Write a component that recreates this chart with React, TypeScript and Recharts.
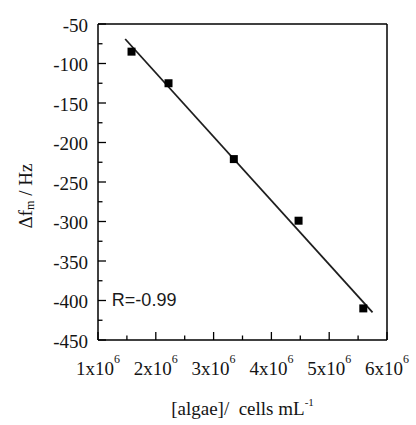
import React from 'react';
import { ComposedChart, XAxis, YAxis, Scatter, Line, Label, ReferenceDot } from 'recharts';

const algaeConc = [1.58e6, 2.22e6, 3.35e6, 4.47e6, 5.59e6];
const freqShift = [-85, -125, -221, -299, -410];
const fitX = [1.47e6, 5.75e6];
const fitY = [-69, -415];
const xTicks = [1e6, 1.5e6, 2e6, 2.5e6, 3e6, 3.5e6, 4e6, 4.5e6, 5e6, 5.5e6, 6e6];
const xMajor = [1e6, 2e6, 3e6, 4e6, 5e6, 6e6];
const yTicks = [-450, -425, -400, -375, -350, -325, -300, -275, -250, -225, -200, -175, -150, -125, -100, -75, -50];
const yMajor = [-450, -400, -350, -300, -250, -200, -150, -100, -50];
const rLabel = 'R=-0.99';

const points = algaeConc.map((x, i) => ({ x, y: freqShift[i] }));
const fit = fitX.map((x, i) => ({ x, y: fitY[i] }));

const SERIF = '"Liberation Serif", "Times New Roman", "DejaVu Serif", serif';
const SANS = '"Liberation Sans", Arial, sans-serif';
const TXT = '#141414';
const serifStyle = { fontFamily: SERIF, whiteSpace: 'pre' as const };

const BottomTick = (props: any) => {
  const { x, y, payload } = props;
  const v = payload.value;
  const major = xMajor.includes(v);
  return (
    <g>
      <line x1={x} x2={x} y1={y} y2={y - (major ? 8 : 4.5)} stroke="#000" strokeWidth={1.3} />
      {major && (
        <text x={x} y={y + 35} textAnchor="middle" fontSize={19} fill={TXT} style={serifStyle}>
          {`${Math.round(v / 1e6)}x10`}
          <tspan dy={-12} fontSize={12}>6</tspan>
        </text>
      )}
    </g>
  );
};

const TopTick = (props: any) => {
  const { x, y, payload } = props;
  const major = xMajor.includes(payload.value);
  return <line x1={x} x2={x} y1={y} y2={y + (major ? 8 : 4.5)} stroke="#000" strokeWidth={1.3} />;
};

const LeftTick = (props: any) => {
  const { x, y, payload } = props;
  const v = payload.value;
  const major = yMajor.includes(v);
  return (
    <g>
      <line x1={x} x2={x + (major ? 8 : 4.5)} y1={y} y2={y} stroke="#000" strokeWidth={1.3} />
      {major && (
        <text x={x - 10} y={y + 1} textAnchor="end" dominantBaseline="central" fontSize={19} fill={TXT} style={serifStyle}>
          {String(v)}
        </text>
      )}
    </g>
  );
};

const RightTick = (props: any) => {
  const { x, y, payload } = props;
  const major = yMajor.includes(payload.value);
  return <line x1={x} x2={x - (major ? 8 : 4.5)} y1={y} y2={y} stroke="#000" strokeWidth={1.3} />;
};

const XTitle = (props: any) => {
  const vb = props.viewBox || {};
  const cx = vb.x + vb.width / 2;
  return (
    <text x={cx} y={340 + 75} textAnchor="middle" fontSize={19} fill={TXT} style={serifStyle}>
      {'[algae]/  cells mL'}
      <tspan dy={-9} fontSize={11}>-1</tspan>
    </text>
  );
};

const YTitle = () => {
  const cx = 25;
  const cy = 196;
  return (
    <text x={cx} y={cy} transform={`rotate(-90, ${cx}, ${cy})`} textAnchor="middle" dominantBaseline="central" fontSize={19} fill={TXT} style={serifStyle}>
      {'Δf'}
      <tspan dy={5} fontSize={12}>m</tspan>
      <tspan dy={-5}>{' / Hz'}</tspan>
    </text>
  );
};

const RText = (props: any) => {
  const vb = props.viewBox || {};
  const x = vb.x ?? props.x;
  const y = vb.y ?? props.y;
  return (
    <text x={x} y={y} textAnchor="start" dominantBaseline="central" fontSize={18} fill="#1a1a1a" style={{ fontFamily: SANS }}>
      {rLabel}
    </text>
  );
};

export default function App() {
  return (
    <div style={{ position: 'absolute', left: 0, top: 0, background: '#fff' }}>
      <ComposedChart width={416} height={425} margin={{ top: 23, right: 28, bottom: 84, left: 97 }}>
        <XAxis
          xAxisId={0}
          type="number"
          dataKey="x"
          domain={[1e6, 6e6]}
          ticks={xTicks}
          interval={0}
          height={1}
          tickSize={0}
          tickMargin={0}
          tickLine={false}
          axisLine={{ stroke: '#000', strokeWidth: 1.5 }}
          tick={<BottomTick />}
        >
          <Label content={<XTitle />} />
        </XAxis>
        <XAxis
          xAxisId="top"
          orientation="top"
          type="number"
          domain={[1e6, 6e6]}
          ticks={xTicks}
          interval={0}
          height={1}
          tickSize={0}
          tickMargin={0}
          tickLine={false}
          axisLine={{ stroke: '#000', strokeWidth: 1.5 }}
          tick={<TopTick />}
        />
        <YAxis
          yAxisId={0}
          type="number"
          domain={[-450, -50]}
          ticks={yTicks}
          interval={0}
          width={1}
          tickSize={0}
          tickMargin={0}
          tickLine={false}
          axisLine={{ stroke: '#000', strokeWidth: 1.5 }}
          tick={<LeftTick />}
        >
          <Label content={<YTitle />} />
        </YAxis>
        <YAxis
          yAxisId="right"
          orientation="right"
          type="number"
          domain={[-450, -50]}
          ticks={yTicks}
          interval={0}
          width={1}
          tickSize={0}
          tickMargin={0}
          tickLine={false}
          axisLine={{ stroke: '#000', strokeWidth: 1.5 }}
          tick={<RightTick />}
        />
        <Line
          data={fit}
          dataKey="y"
          xAxisId={0}
          yAxisId={0}
          type="linear"
          stroke="#1e1e1e"
          strokeWidth={1.8}
          dot={false}
          activeDot={false}
          isAnimationActive={false}
        />
        <Scatter
          data={points}
          dataKey="y"
          xAxisId={0}
          yAxisId={0}
          shape="square"
          fill="#000"
          size={50}
          isAnimationActive={false}
        />
        <ReferenceDot x={1.24e6} y={-399} r={0} xAxisId={0} yAxisId={0} fill="none" stroke="none" label={<RText />} />
      </ComposedChart>
    </div>
  );
}
